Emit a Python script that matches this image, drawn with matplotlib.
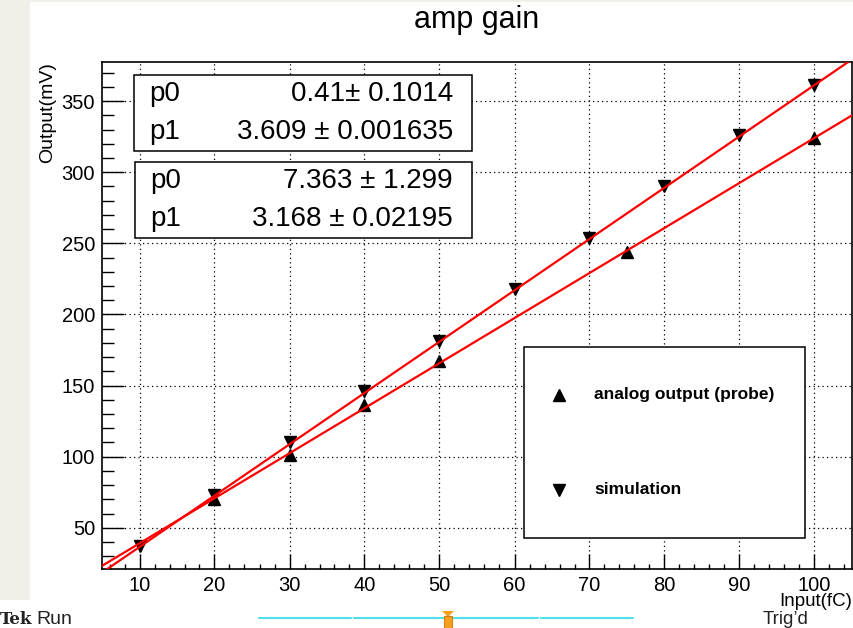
import matplotlib
matplotlib.use("Agg")
import matplotlib.pyplot as plt
from matplotlib.patches import Rectangle, Polygon
from matplotlib.ticker import MultipleLocator
import numpy as np

plt.rcParams['font.family'] = ['Liberation Sans', 'DejaVu Sans']

# ---- data ----
sim_x = [10, 20, 30, 40, 50, 60, 70, 80, 90, 100]
sim_y = [37, 73, 110, 146, 181, 218, 254, 290, 326, 361]
ana_x = [20, 30, 40, 50, 75, 100]
ana_y = [70, 101, 136, 167, 244, 324]
sim_p = [0.41, 3.609]
sim_e = [0.1014, 0.001635]
ana_p = [7.363, 3.168]
ana_e = [1.299, 0.02195]
sim_stats = ["0.41\u00b1 0.1014", "3.609 \u00b1 0.001635"]
ana_stats = ["7.363 \u00b1 1.299", "3.168 \u00b1 0.02195"]

W, H = 854, 628
fig = plt.figure(figsize=(W / 100, H / 100), dpi=100)
fx = lambda px: px / W
fy = lambda py: 1 - py / H

# screenshot leftovers: beige strip on the left, thin band on top
fig.add_artist(Rectangle((0, fy(600)), fx(30), fy(0) - fy(600), transform=fig.transFigure,
                         facecolor="#f2eee8", edgecolor="none", zorder=0))
fig.add_artist(Rectangle((0, fy(2)), 1, fy(0) - fy(2), transform=fig.transFigure,
                         facecolor="#f2eee8", edgecolor="none", zorder=0))

ax = fig.add_axes([fx(102), fy(569), fx(852) - fx(102), fy(62) - fy(569)])
ax.set_xlim(5, 105)
ax.set_ylim(21, 377.5)

ax.xaxis.set_major_locator(MultipleLocator(10))
ax.xaxis.set_minor_locator(MultipleLocator(2))
ax.yaxis.set_major_locator(MultipleLocator(50))
ax.yaxis.set_minor_locator(MultipleLocator(10))
ax.tick_params(axis="x", which="major", direction="in", length=11, width=1, labelsize=14.5, pad=5)
ax.tick_params(axis="x", which="minor", direction="in", length=3.6, width=1)
ax.tick_params(axis="y", which="major", direction="in", length=16, width=1, labelsize=14.5, pad=5)
ax.tick_params(axis="y", which="minor", direction="in", length=8.6, width=1)
for s in ax.spines.values():
    s.set_linewidth(1.2)
ax.grid(which="major", color="black", linestyle=(0, (1, 2.6)), linewidth=0.9, zorder=1)
ax.set_axisbelow(True)

# markers
ax.plot(sim_x, sim_y, linestyle="none", marker="v", ms=9, color="black", zorder=2)
ax.plot(ana_x, ana_y, linestyle="none", marker="^", ms=9, color="black", zorder=2)
# fits
xf = np.array([5, 105])
ax.plot(xf, sim_p[0] + sim_p[1] * xf, color="#ff0000", lw=1.6, zorder=3)
ax.plot(xf, ana_p[0] + ana_p[1] * xf, color="#ff0000", lw=1.6, zorder=3)

# titles
fig.text(fx(477), fy(20), "amp gain", ha="center", va="center", fontsize=22)
fig.text(fx(48), fy(62), "Output(mV)", ha="center", va="top", rotation=90, fontsize=14)
fig.text(fx(852), fy(602), "Input(fC)", ha="right", va="center", fontsize=13.5)

# stats boxes
def stats_box(x0, y0, x1, y1, vals):
    fig.add_artist(Rectangle((fx(x0), fy(y1)), fx(x1) - fx(x0), fy(y0) - fy(y1),
                             transform=fig.transFigure, facecolor="white",
                             edgecolor="black", linewidth=1.1, zorder=5))
    h = (y1 - y0) / 2
    for i, (name, v) in enumerate(zip(["p0", "p1"], vals)):
        yc = y0 + h * (i + 0.5)
        fig.text(fx(x0 + 15), fy(yc), name, ha="left", va="center", fontsize=20, zorder=6)
        fig.text(fx(x1 - 19), fy(yc), v, ha="right", va="center", fontsize=20, zorder=6)

stats_box(134, 75, 472, 151, sim_stats)
stats_box(135, 162, 472, 238, ana_stats)

# legend box
fig.add_artist(Rectangle((fx(524), fy(538)), fx(805) - fx(524), fy(347) - fy(538),
                         transform=fig.transFigure, facecolor="white",
                         edgecolor="black", linewidth=1.1, zorder=5))
fig.add_artist(plt.Line2D([fx(559)], [fy(395)], marker="^", ms=8, color="black",
                          transform=fig.transFigure, zorder=6))
fig.add_artist(plt.Line2D([fx(559)], [fy(490)], marker="v", ms=8, color="black",
                          transform=fig.transFigure, zorder=6))
fig.text(fx(594), fy(395), "analog output (probe)", ha="left", va="center",
         fontsize=12.5, fontweight="bold", zorder=6)
fig.text(fx(594), fy(490), "simulation", ha="left", va="center",
         fontsize=12.5, fontweight="bold", zorder=6)

# scope status bar at the bottom
fig.text(fx(0), fy(619), "Tek", ha="left", va="center", fontsize=12, fontweight="bold",
         family=["DejaVu Serif"], color="#222222")
fig.text(fx(36), fy(619), "Run", ha="left", va="center", fontsize=14, color="#222222")
fig.text(fx(763), fy(620), "Trig\u2019d", ha="left", va="center", fontsize=13.5, color="#222222")
for a, b in [(259, 351), (354, 538), (541, 633)]:
    fig.add_artist(plt.Line2D([fx(a), fx(b)], [fy(618), fy(618)], color="#22dde6",
                              lw=1.2, transform=fig.transFigure))
fig.add_artist(Polygon([(fx(442), fy(611)), (fx(454), fy(611)), (fx(448), fy(617))],
                       closed=True, transform=fig.transFigure, facecolor="#f7a020",
                       edgecolor="none", zorder=6))
fig.add_artist(Rectangle((fx(444), fy(628)), fx(8), fy(616) - fy(628), transform=fig.transFigure,
                         facecolor="#f7a020", edgecolor="#d08010", linewidth=0.8, zorder=6))

fig.savefig("out.png", dpi=100, facecolor="white")
